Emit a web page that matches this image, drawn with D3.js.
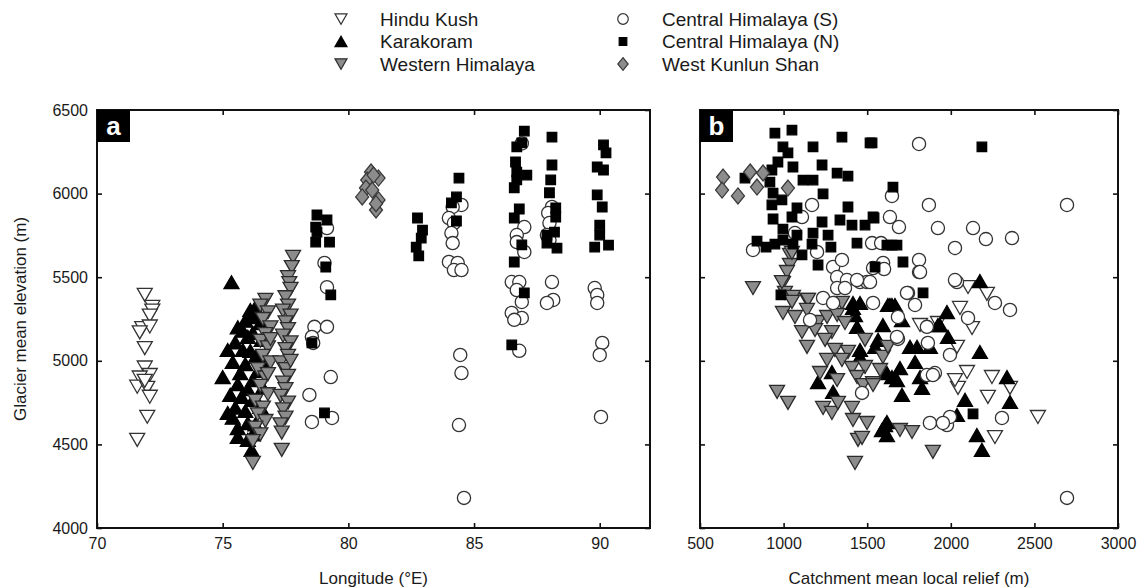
<!DOCTYPE html>
<html>
<head>
<meta charset="utf-8">
<script src="https://cdn.jsdelivr.net/npm/d3@7/dist/d3.min.js"></script>
<style>
    body { margin: 0; background: #fff; }
    svg text { font-family: "Liberation Sans", Arial, sans-serif; fill: #1a1a1a; }
</style>
</head>
<body>
<svg id="chart"></svg>
<script>
// series names (legend order)
var seriesNames = ['Hindu Kush', 'Karakoram', 'Western Himalaya', 'Central Himalaya (S)', 'Central Himalaya (N)', 'West Kunlun Shan'];

// tick labels
var lonTicks = [70, 75, 80, 85, 90];
var reliefTicks = [500, 1000, 1500, 2000, 2500, 3000];
var elevTicks = [4000, 4500, 5000, 5500, 6000, 6500];

// panel a: [longitude, elevation]
var hinduKushA = [[71.9,5394],[72.2,5322],[72.2,5300],[72.1,5270],[71.8,5196],[72.1,5205],[71.7,5170],[71.9,5076],[71.9,4960],[72.1,4915],[71.7,4900],[71.6,4845],[72.0,4838],[72.1,4785],[72.0,4665],[71.6,4527],[71.9,4880]];
var karakoramA = [[75.35,5470],[75.6,5200],[75.2,5065],[75.0,4903],[75.4,4993],[75.3,4796],[75.2,4688],[75.6,4598],[75.6,4545],[76.15,4467],[76.1,5304],[76.15,5262],[75.8,5065],[75.7,4927],[76.2,5167],[76.3,5023],[76.2,4885],[76.2,4766],[76.5,4724],[76.0,5143],[75.75,4784],[76.0,4628],[76.5,5226],[76.55,5125],[76.0,4527],[75.9,5240],[76.3,5320],[75.5,5110],[75.9,4980],[76.4,4940],[75.6,4860],[76.0,4830],[76.3,4620],[75.5,4720],[76.1,5060],[76.6,5000],[75.8,5180],[76.4,5280],[76.6,4840],[75.4,4660],[76.2,4560],[75.9,4700]];
var westHimA = [[76.7,5364],[76.5,5330],[76.8,5290],[76.6,5250],[76.9,5200],[76.7,5160],[76.5,5120],[76.8,5080],[76.6,5030],[76.9,4990],[76.4,4950],[76.7,4900],[76.5,4850],[76.8,4800],[76.3,4760],[76.6,4720],[76.4,4680],[76.7,4640],[76.3,4600],[76.5,4560],[76.2,4520],[76.2,4389],[76.9,5130],[76.8,4920],
    [77.8,5621],[77.75,5560],[77.6,5500],[77.65,5465],[77.7,5430],[77.5,5380],[77.6,5330],[77.4,5300],[77.7,5270],[77.5,5230],[77.6,5190],[77.4,5150],[77.7,5110],[77.5,5070],[77.6,5030],[77.3,4990],[77.5,4950],[77.6,4910],[77.4,4870],[77.5,4830],[77.3,4790],[77.6,4750],[77.4,4710],[77.5,4660],[77.3,4620],[77.35,4570],[77.35,4467],[77.7,5000]];
var centralSA = [[78.65,5203],[79.15,5203],[78.55,5143],[78.6,5107],[79.3,4903],[78.45,4796],[78.55,4634],[79.35,4658],[79.15,5794],[79.05,5585],[79.15,5440],
    [84.5,5932],[84.15,5920],[84.0,5854],[84.2,5824],[84.1,5764],[84.15,5704],[84.0,5591],[84.35,5585],[84.2,5543],[84.5,5543],[84.45,5035],[84.5,4927],[84.4,4616],[84.6,4180],
    [87.0,5800],[86.7,5752],[86.7,5710],[87.0,5651],[86.5,5471],[86.8,5471],[86.7,5423],[86.9,5352],[86.5,5286],[86.9,5256],[86.6,5245],[86.8,5060],[86.9,6300],
    [88.1,5920],[87.95,5884],[88.0,5824],[87.9,5752],[88.0,5722],[88.1,5471],[88.15,5364],[87.9,5346],
    [89.8,5435],[89.9,5394],[89.9,5346],[90.1,5107],[90.0,5035],[90.05,4664]];
var centralNA = [[78.75,5872],[79.15,5842],[78.7,5800],[78.75,5770],[78.7,5710],[79.25,5710],[79.1,5561],[79.3,5394],[78.55,5107],[79.05,4688],
    [82.75,5854],[82.95,5782],[82.9,5734],[82.7,5680],[82.8,5627],
    [84.4,6093],[84.3,5980],[84.1,5944],[84.3,5836],
    [87.0,6374],[86.9,6303],[86.7,6280],[86.65,6189],[86.7,6129],[87.1,6111],[86.7,6082],[86.6,6035],[86.8,5908],[86.6,5854],[86.9,5693],[86.6,5591],[87.0,5406],[86.5,5095],
    [88.1,6338],[88.1,6171],[88.05,6082],[88.0,6005],[88.25,5914],[88.25,5860],[88.2,5770],[87.9,5752],[87.9,5704],[88.3,5674],
    [90.15,6291],[90.25,6243],[89.9,6159],[90.15,6141],[89.9,5992],[90.1,5920],[90.0,5812],[90.0,5752],[89.8,5680],[90.35,5692]];
var kunlunA = [[80.9,6129],[81.2,6093],[80.75,6081],[81.0,6111],[80.7,6033],[80.95,6021],[80.55,5980],[81.2,5962],[81.1,5902],[81.1,5940]];

// panel b: [local relief, elevation]
var hinduKushB = [[2103,5441],[2216,5400],[2055,5316],[2127,5196],[2037,5083],[1923,5226],[2097,4933],[2246,4903],[2043,4838],[2222,4784],[2354,4838],[2521,4664],[2264,4544],[1816,5214],[2025,4885]];
var karakoramB = [[1415,5346],[1457,5346],[1624,5334],[1666,5334],[1427,5274],[1594,5214],[1708,5244],[1977,5292],[1983,5143],[1935,5214],[1547,5083],[1457,5065],[1756,5083],[1798,5083],[1875,5083],[1786,4993],[1457,5023],[1618,4927],[1696,4957],[1678,4885],[1816,4903],[1828,4838],[1289,4933],[1206,4873],[1296,4814],[1708,4796],[1618,4634],[1618,4556],[1588,4586],[1415,5316],[1439,5203],[1565,5125],[1648,4903],[1648,5334],[1923,5214],[2174,5053],[2336,4903],[2085,4766],[2354,4754],[2037,4676],[2156,4556],[2186,4467],[1607,4616],[2174,5477],[1636,5334]];
var westHimB = [[817,5435],[1038,5633],[1038,5573],[1020,5531],[996,5465],[1008,5406],[1056,5382],[1140,5364],[1349,5346],[1050,5645],[990,5471],[1050,5352],[1146,5364],[996,5286],[1068,5262],[1140,5304],[1206,5232],[1260,5262],[1320,5274],[1367,5226],[1110,5172],[1188,5184],[1289,5172],[1140,5083],[1248,5125],[1307,5065],[1385,5053],[1487,5125],[1260,5005],[1349,5005],[1409,4957],[1487,4963],[1594,5023],[1218,4927],[1320,4885],[1439,4903],[1475,4855],[1535,4867],[961,4814],[1026,4748],[1236,4718],[1289,4688],[1325,4748],[1409,4718],[1415,4646],[1499,4628],[1445,4527],[1469,4539],[1696,4586],[1768,4574],[1893,4455],[1427,4389],[1624,5083],[1577,4945],[1535,4855]];
var centralSB = [[817,5663],[1170,5932],[1110,5860],[1200,5651],[1296,5561],[1320,5501],[1379,5483],[1457,5471],[1499,5471],[1236,5376],[1535,5555],[1529,5704],[1296,5346],[1068,5764],
    [1810,6297],[1648,5986],[1869,5932],[1636,5860],[1690,5800],[1923,5794],[2133,5794],[2210,5728],[2366,5734],[2025,5675],[1583,5704],[1595,5585],[1601,5549],[1810,5603],[1810,5531],[2037,5471],[1744,5406],[2264,5346],[2354,5304],[2695,5932],[1517,5471],[1535,5346],[1786,5334],
    [2103,5256],[1857,5203],[1684,5131],[1863,5107],[1995,5035],[1905,4927],[1857,4915],[1875,4628],[1977,4616],[1995,4664],[2306,4658],[2695,4180],
    [1349,5603],[1439,5483],[1320,5435],[1367,5435],[1738,5406],[1816,5531],[1158,5244],[1684,5262],[1678,5143],[1893,4915],[1469,4808],[1953,4628],[2025,5483]];
var centralNB = [[948,6362],[1050,6380],[1349,6338],[1517,6303],[996,6279],[1026,6243],[1176,6279],[966,6189],[1056,6159],[930,6141],[1230,6171],[769,6093],[918,6069],[1116,6081],[1176,6081],[1320,6123],[1385,6105],[937,6003],[1236,5998],[990,5962],[930,5932],[1080,5914],[1385,5920],[937,5848],[1050,5860],[1230,5830],[1337,5842],[1535,5860],[1409,5812],[1487,5812],[996,5788],[1176,5764],[1266,5752],[1080,5752],[841,5716],[895,5680],[948,5698],[996,5722],[1056,5698],[1170,5698],[1283,5680],[1439,5704],[1547,5561],[1206,5573],[1110,5633],[984,5394],
    [1529,6303],[2186,6279],[1654,6039],[1541,5854],[1648,5692],[1678,5692],[1714,5591],[1834,5406],[1618,5692],[2133,4682]];
var kunlunB = [[638,6099],[632,6021],[727,5986],[800,6129],[877,6123],[841,6039],[1026,6033]];

var svgWidth = 1148,
    svgHeight = 587;
var svg = d3.select('#chart')
    .attr('width', svgWidth)
    .attr('height', svgHeight);

// marker styles, same order as seriesNames
var markerStyles = [
    {shape: 'triDown', fill: '#ffffff', stroke: '#333333'},
    {shape: 'triUp', fill: '#000000', stroke: '#000000'},
    {shape: 'triDown', fill: '#8c8c8c', stroke: '#2b2b2b'},
    {shape: 'circle', fill: '#ffffff', stroke: '#333333'},
    {shape: 'square', fill: '#000000', stroke: '#000000'},
    {shape: 'diamond', fill: '#8c8c8c', stroke: '#3a3a3a'}
];

// marker path centred on 0,0
function markerPath(shape, k) {
    var w, h;
    if (shape === 'triDown' || shape === 'triUp') {
        w = 15 * k; h = 13 * k;
        var s = shape === 'triDown' ? 1 : -1;
        return 'M' + (-w/2) + ',' + (-s*h/2) + 'L' + (w/2) + ',' + (-s*h/2) + 'L0,' + (s*h/2) + 'Z';
    }
    if (shape === 'square') {
        w = 9.5 * k;
        return 'M' + (-w/2) + ',' + (-w/2) + 'h' + w + 'v' + w + 'h' + (-w) + 'Z';
    }
    if (shape === 'diamond') {
        w = 13 * k; h = 16 * k;
        return 'M0,' + (-h/2) + 'L' + (w/2) + ',0L0,' + (h/2) + 'L' + (-w/2) + ',0Z';
    }
    // circle
    var r = 6.6 * k;
    return 'M' + (-r) + ',0A' + r + ',' + r + ' 0 1,0 ' + r + ',0A' + r + ',' + r + ' 0 1,0 ' + (-r) + ',0Z';
}

// y scale shared by both panels
var y = d3.scaleLinear().domain([4000, 6500]).range([528, 110]);

function drawPanel(opts) {
    var x = opts.x;
    var x0 = x.range()[0], x1 = x.range()[1];
    var y0 = y.range()[1], y1 = y.range()[0];
    var g = svg.append('g');

    // points
    opts.series.forEach(function(data, i) {
        var st = markerStyles[i];
        g.append('g')
            .selectAll('path')
            .data(data)
            .enter()
            .append('path')
            .attr('d', markerPath(st.shape, 1))
            .attr('transform', function(d) {
                return 'translate(' + x(d[0]) + ',' + y(d[1]) + ')';
            })
            .attr('fill', st.fill)
            .attr('stroke', st.stroke)
            .attr('stroke-width', 1.3);
    });

    // axes, ticks pointing inward
    g.append('g')
        .attr('class', 'axis')
        .attr('transform', 'translate(0,' + y1 + ')')
        .call(d3.axisBottom(x).tickValues(opts.xTicks).tickSize(-5).tickPadding(10).tickFormat(d3.format('d')));
    g.append('g')
        .attr('class', 'axis')
        .attr('transform', 'translate(0,' + y0 + ')')
        .call(d3.axisTop(x).tickValues(opts.xTicks).tickSize(-5).tickFormat(''));
    g.append('g')
        .attr('class', 'axis')
        .attr('transform', 'translate(' + x0 + ',0)')
        .call(d3.axisLeft(y).tickValues(elevTicks).tickSize(-5).tickPadding(9).tickFormat(opts.yLabels ? d3.format('d') : ''));
    g.append('g')
        .attr('class', 'axis')
        .attr('transform', 'translate(' + x1 + ',0)')
        .call(d3.axisRight(y).tickValues(elevTicks).tickSize(-5).tickFormat(''));
    g.selectAll('.axis .domain').remove();
    g.selectAll('.axis line').attr('stroke', '#111').attr('stroke-width', 1.6);
    g.selectAll('.axis text').style('font-size', '16px').attr('fill', '#1a1a1a');

    // frame
    g.append('rect')
        .attr('x', x0)
        .attr('y', y0)
        .attr('width', x1 - x0)
        .attr('height', y1 - y0)
        .attr('fill', 'none')
        .attr('stroke', '#111')
        .attr('stroke-width', 2);

    // panel letter
    g.append('rect')
        .attr('x', x0)
        .attr('y', y0)
        .attr('width', 33)
        .attr('height', 32)
        .attr('fill', '#000');
    g.append('text')
        .attr('x', x0 + 16.5)
        .attr('y', y0 + 25)
        .attr('text-anchor', 'middle')
        .style('font-size', '26px')
        .style('font-weight', 'bold')
        .style('fill', '#fff')
        .text(opts.letter);

    // x title
    g.append('text')
        .attr('x', (x0 + x1) / 2)
        .attr('y', 584)
        .attr('text-anchor', 'middle')
        .style('font-size', '17px')
        .text(opts.xTitle);
}

drawPanel({
    x: d3.scaleLinear().domain([70, 92]).range([97, 650]),
    xTicks: lonTicks,
    yLabels: true,
    letter: 'a',
    xTitle: 'Longitude (°E)',
    series: [hinduKushA, karakoramA, westHimA, centralSA, centralNA, kunlunA]
});
drawPanel({
    x: d3.scaleLinear().domain([500, 3000]).range([700, 1118]),
    xTicks: reliefTicks,
    yLabels: false,
    letter: 'b',
    xTitle: 'Catchment mean local relief (m)',
    series: [hinduKushB, karakoramB, westHimB, centralSB, centralNB, kunlunB]
});

// y title
svg.append('text')
    .attr('transform', 'translate(26,319) rotate(-90)')
    .attr('text-anchor', 'middle')
    .style('font-size', '17px')
    .text('Glacier mean elevation (m)');

// legend, two columns of three
var legend = svg.selectAll('.legend')
    .data(seriesNames)
    .enter()
    .append('g')
    .attr('class', 'legend')
    .attr('transform', function(d, i) {
        var legendX = i < 3 ? 341 : 623,
            legendY = 19 + (i % 3) * 22.5;
        return 'translate(' + legendX + ',' + legendY + ')';
    });
legend.append('path')
    .attr('d', function(d, i) {
        return markerPath(markerStyles[i].shape, 0.8);
    })
    .attr('fill', function(d, i) { return markerStyles[i].fill; })
    .attr('stroke', function(d, i) { return markerStyles[i].stroke; })
    .attr('stroke-width', 1.2);
legend.append('text')
    .attr('x', 39)
    .attr('y', 6.5)
    .style('font-size', '19px')
    .text(function(d) { return d; });
</script>
</body>
</html>
